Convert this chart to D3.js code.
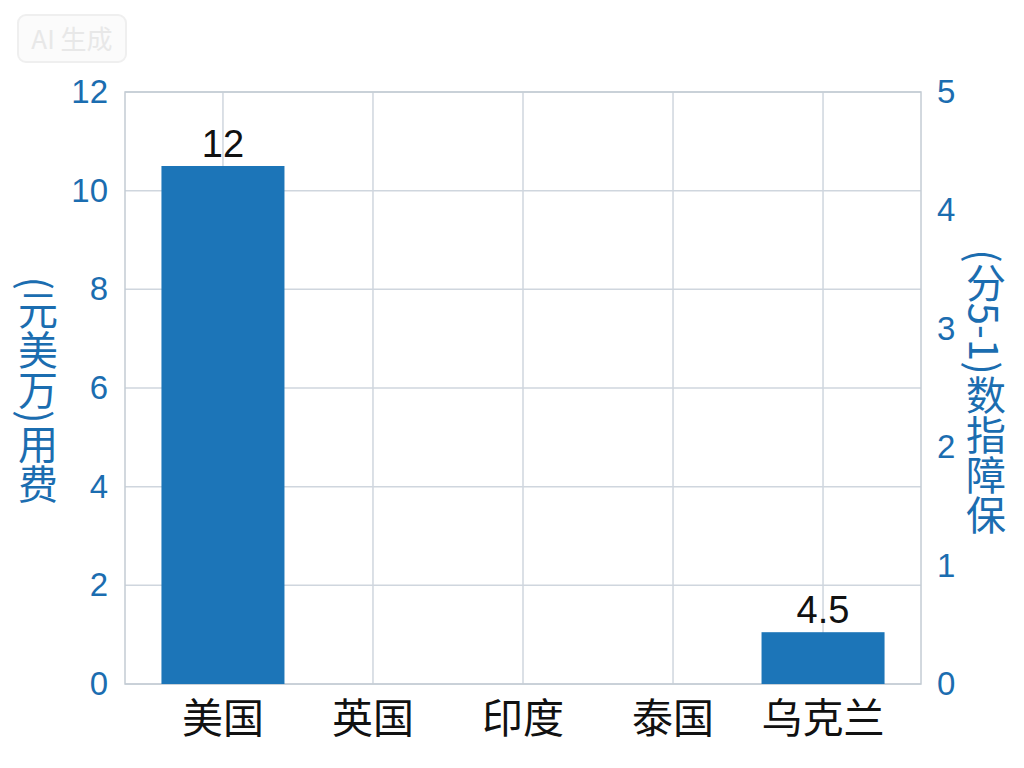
<!DOCTYPE html>
<html>
<head>
<meta charset="utf-8">
<script src="https://cdn.jsdelivr.net/npm/d3@7"></script>
<style>
  body { margin: 0; background: #fff; }
  text { font-family: "Liberation Sans", "Noto Sans CJK SC", sans-serif; }
</style>
</head>
<body>
<script>
// 数据
var categories = ["美国", "英国", "印度", "泰国", "乌克兰"];
var costValues = [10.5, 0, 0, 0, 1.05];
var barLabels = ["12", "", "", "", "4.5"];
var leftTicks = [0, 2, 4, 6, 8, 10, 12];
var rightTicks = [0, 1, 2, 3, 4, 5];

var width = 1024;
var height = 768;
var margin = { top: 92, right: 103, bottom: 84, left: 125 };
var blue = "#1b6db0";
var barColor = "#1c75b8";
var gridColor = "#cfd6de";

var svg = d3.select("body")
  .append("svg")
  .attr("width", width)
  .attr("height", height);

var x = d3.scalePoint()
  .domain(categories)
  .range([margin.left, width - margin.right])
  .padding(0.653);
var step = x.step();
var barWidth = step * 0.82;

var yLeft = d3.scaleLinear().domain([0, 12]).range([height - margin.bottom, margin.top]);
var yRight = d3.scaleLinear().domain([0, 5]).range([height - margin.bottom, margin.top]);

// 水印
var wm = svg.append("g").attr("transform", "translate(18,15)");
wm.append("rect")
  .attr("width", 108).attr("height", 47).attr("rx", 8)
  .attr("fill", "#fbfbfb").attr("stroke", "#efefef").attr("stroke-width", 2);
wm.append("text")
  .attr("x", 54).attr("y", 34)
  .attr("text-anchor", "middle")
  .attr("font-size", "26px")
  .attr("fill", "#e8e8e8")
  .style("font-family", "'Noto Sans CJK SC', sans-serif")
  .text("AI 生成");

// 网格
svg.append("g")
  .selectAll("line")
  .data(leftTicks)
  .enter()
  .append("line")
  .attr("x1", margin.left).attr("x2", width - margin.right)
  .attr("y1", function (d) { return yLeft(d); })
  .attr("y2", function (d) { return yLeft(d); })
  .attr("stroke", gridColor).attr("stroke-width", 1.5);

svg.append("g")
  .selectAll("line")
  .data(categories)
  .enter()
  .append("line")
  .attr("x1", function (d) { return x(d); })
  .attr("x2", function (d) { return x(d); })
  .attr("y1", margin.top).attr("y2", height - margin.bottom)
  .attr("stroke", gridColor).attr("stroke-width", 1.5);

svg.append("rect")
  .attr("x", margin.left).attr("y", margin.top)
  .attr("width", width - margin.left - margin.right)
  .attr("height", height - margin.top - margin.bottom)
  .attr("fill", "none")
  .attr("stroke", "#c4ccd4").attr("stroke-width", 1.5);

// 柱子
svg.append("g")
  .selectAll("rect")
  .data(costValues)
  .enter()
  .append("rect")
  .attr("fill", barColor)
  .attr("x", function (d, i) { return x(categories[i]) - barWidth / 2; })
  .attr("y", function (d) { return yLeft(d); })
  .attr("width", barWidth)
  .attr("height", function (d) { return yLeft(0) - yLeft(d); });

// 柱顶数字
svg.append("g")
  .selectAll("text")
  .data(costValues)
  .enter()
  .append("text")
  .attr("x", function (d, i) { return x(categories[i]); })
  .attr("y", function (d) { return yLeft(d) - 9; })
  .attr("text-anchor", "middle")
  .attr("font-size", "38px")
  .attr("fill", "#111")
  .text(function (d, i) { return barLabels[i]; });

// 左轴
var leftAxis = svg.append("g")
  .attr("transform", "translate(" + margin.left + ",0)")
  .call(d3.axisLeft(yLeft).tickValues(leftTicks).tickSize(0).tickPadding(17));
leftAxis.select(".domain").remove();
leftAxis.selectAll("text")
  .attr("font-size", "33px")
  .attr("fill", blue)
  .style("font-family", "'Liberation Sans', sans-serif");

// 右轴
var rightAxis = svg.append("g")
  .attr("transform", "translate(" + (width - margin.right) + ",0)")
  .call(d3.axisRight(yRight).tickValues(rightTicks).tickFormat(d3.format("d")).tickSize(0).tickPadding(16));
rightAxis.select(".domain").remove();
rightAxis.selectAll("text")
  .attr("font-size", "33px")
  .attr("fill", blue)
  .style("font-family", "'Liberation Sans', sans-serif");

// x轴标签
svg.append("g")
  .selectAll("text")
  .data(categories)
  .enter()
  .append("text")
  .attr("x", function (d) { return x(d); })
  .attr("y", height - margin.bottom + 49)
  .attr("text-anchor", "middle")
  .attr("font-size", "41px")
  .attr("fill", "#111")
  .style("font-family", "'Noto Sans CJK SC', sans-serif")
  .text(function (d) { return d; });

// 轴标题（竖排）
svg.append("text")
  .attr("x", 38).attr("y", 390)
  .attr("text-anchor", "middle")
  .attr("font-size", "40px")
  .attr("fill", blue)
  .style("writing-mode", "vertical-rl")
  .style("font-family", "'Noto Sans CJK SC', sans-serif")
  .text("(元美万)用费");

svg.append("text")
  .attr("x", 986).attr("y", 392)
  .attr("text-anchor", "middle")
  .attr("font-size", "40px")
  .attr("fill", blue)
  .style("writing-mode", "vertical-rl")
  .style("font-family", "'Noto Sans CJK SC', sans-serif")
  .text("(分5-1)数指障保");
</script>
</body>
</html>
